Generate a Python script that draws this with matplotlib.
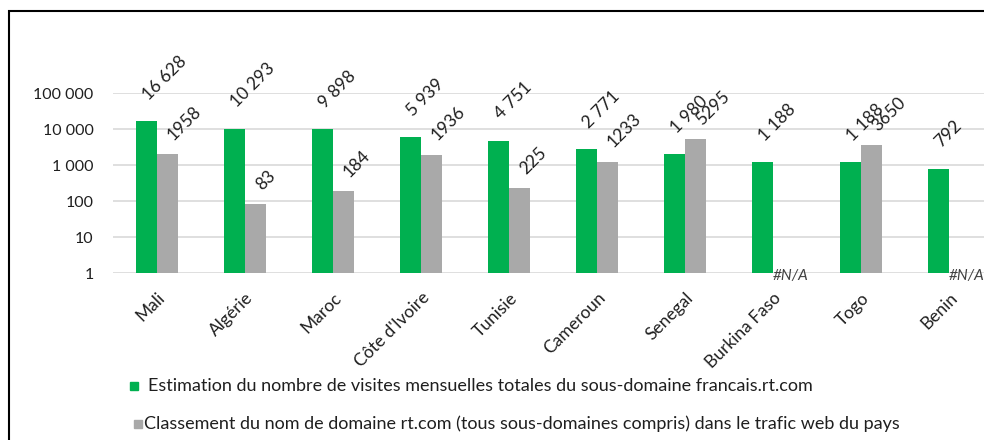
import matplotlib
matplotlib.use("Agg")
import matplotlib.pyplot as plt
import numpy as np
from matplotlib.patches import Rectangle

plt.rcParams['font.family'] = ['Lato', 'DejaVu Sans']

countries = ["Mali", "Algérie", "Maroc", "Côte d'Ivoire", "Tunisie",
             "Cameroun", "Senegal", "Burkina Faso", "Togo", "Benin"]
visits = [16628, 10293, 9898, 5939, 4751, 2771, 1980, 1188, 1188, 792]
rank = [1958, 83, 184, 1936, 225, 1233, 5295, None, 3650, None]
yticks = [1, 10, 100, 1000, 10000, 100000]
ytick_labels = ["1", "10", "100", "1 000", "10 000", "100 000"]
legend_labels = [
    "Estimation du nombre de visites mensuelles totales du sous-domaine francais.rt.com",
    "Classement du nom de domaine rt.com (tous sous-domaines compris) dans le trafic web du pays",
]

GREEN = "#00B050"
GRAY = "#A9A9A9"
TXT = "#1F1F1F"

W, H = 984, 440
fig = plt.figure(figsize=(W / 100, H / 100), dpi=100)

# outer frame
fig.patches.append(Rectangle((9 / W, -0.05), 1.2, 1 - 11 / H + 0.05,
                             transform=fig.transFigure, fill=False,
                             edgecolor="black", linewidth=1.5))

left, right, top, bottom = 113, 993, 93, 273
ax = fig.add_axes([left / W, 1 - bottom / H, (right - left) / W, (bottom - top) / H])
ax.set_yscale("log")
ax.set_ylim(1, 100000)
n = len(countries)
x = np.arange(n)
ax.set_xlim(-0.5, n - 0.5)
bw = 0.24

gx = x - bw / 2
rx = x + bw / 2
ax.bar(gx, visits, width=bw, color=GREEN, zorder=3)
r_vals = [v if v is not None else np.nan for v in rank]
ax.bar(rx, r_vals, width=bw, color=GRAY, zorder=3)

ax.set_yticks(yticks)
ax.set_yticklabels(ytick_labels)
ax.yaxis.set_minor_locator(matplotlib.ticker.NullLocator())
ax.tick_params(axis="y", length=0, pad=14, labelsize=11.5, labelcolor=TXT)
ax.grid(axis="y", color="#D9D9D9", linewidth=1.2, zorder=0)
for s in ax.spines.values():
    s.set_visible(False)

ax.set_xticks(x)
ax.set_xticklabels(countries, rotation=45, ha="right", rotation_mode="anchor",
                   fontsize=12.5, color=TXT)
ax.tick_params(axis="x", length=0, pad=12)

def fmt_space(v):
    return f"{v:,}".replace(",", " ")

for xi, v in zip(gx, visits):
    ax.annotate(fmt_space(v), (xi, v), xytext=(-5, 13), textcoords="offset points",
                rotation=45, ha="left", va="bottom", fontsize=12.5, color=TXT,
                annotation_clip=False)
for xi, v in zip(rx, rank):
    if v is None:
        ax.annotate("#N/A", (xi - bw / 2, 1), xytext=(0, -2), textcoords="offset points",
                    ha="left", va="center", fontsize=11, style="italic", color="#404040",
                    annotation_clip=False)
    else:
        ax.annotate(str(v), (xi, v), xytext=(-2, 8), textcoords="offset points",
                    rotation=45, ha="left", va="bottom", fontsize=12.5, color=TXT,
                    annotation_clip=False)

# legend
for (sx, sy, col, lab, tx) in [(130, 385.5, GREEN, legend_labels[0], 148),
                               (134, 423.5, GRAY, legend_labels[1], 144)]:
    fig.patches.append(Rectangle((sx / W, 1 - (sy + 4) / H), 8 / W, 8 / H,
                                 transform=fig.transFigure, color=col))
    fig.text(tx / W, 1 - sy / H, lab, ha="left", va="center", fontsize=13, color=TXT)

fig.savefig("out.png", dpi=100)
